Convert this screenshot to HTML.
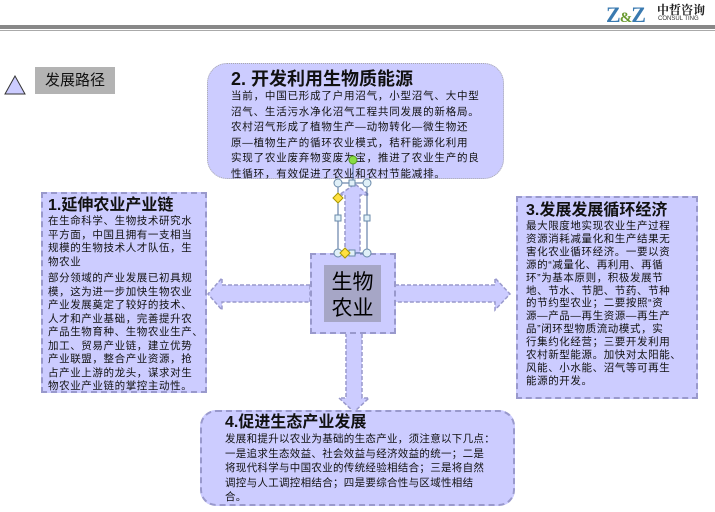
<!DOCTYPE html>
<html><head><meta charset="utf-8"><style>
body{margin:0;width:715px;height:512px;background:#fff;position:relative;overflow:hidden;font-family:"Liberation Sans","Noto Sans CJK SC",sans-serif;}
.a{position:absolute;}
.box{position:absolute;background:#ccccff;box-sizing:border-box;color:#111;}
.t{font-weight:bold;font-size:16px;line-height:18px;white-space:nowrap;}
.p{font-size:10.5px;white-space:nowrap;}
</style></head><body>
<div class="a" style="left:0;top:25px;width:715px;height:4px;background:#888;"></div>
<div class="a" style="left:0;top:30px;width:715px;height:1px;background:#aaa;"></div>
<div class="a" style="left:606px;top:2px;font:bold 22px 'Liberation Serif',serif;color:#3a7ab0;letter-spacing:-1px;">Z<span style="font-size:15px;color:#6a9a30">&amp;</span>Z</div>
<div class="a" style="left:657px;top:1px;font:bold 12px 'Noto Serif CJK SC',serif;color:#222;">中哲咨询</div>
<div class="a" style="left:658px;top:16px;font-size:6px;color:#333;">CONSUL TING</div>
<svg class="a" style="left:0;top:0" width="715" height="512">
<polygon points="15,76 5,94 25,94" fill="#ccccff" stroke="#333" stroke-width="1"/>
<g fill="#ccccff" stroke="#9999cc" stroke-width="1.5" stroke-dasharray="4,2">
<polygon points="310,285 222,285 222,278 208,294 222,310 222,302 310,302"/>
<polygon points="395,285 495,285 495,278 510,294 495,310 495,302 395,302"/>
<polygon points="346,333 346,398 339,398 354,412 369,398 362,398 362,333"/>
<polygon points="345,253 345,195 339,195 355,184 369,195 360,195 360,253"/>
</g>
</svg>
<div class="a" style="left:35px;top:67px;width:80px;height:27px;background:#b3b3b3;font-size:15px;line-height:27px;text-align:center;color:#111;">发展路径</div>
<div class="box" style="left:207px;top:63px;width:297px;height:116px;border-radius:20px;border:1px dotted #aaa;padding:5px 0 0 23px;">
<div class="t" style="font-size:18px;line-height:20px;">2. 开发利用生物质能源</div>
<div class="p" style="line-height:15.5px;letter-spacing:0.8px;">当前，中国已形成了户用沼气，小型沼气、大中型<br>沼气、生活污水净化沼气工程共同发展的新格局。<br>农村沼气形成了植物生产—动物转化—微生物还<br>原—植物生产的循环农业模式，秸秆能源化利用<br>实现了农业废弃物变废为宝，推进了农业生产的良<br>性循环，有效促进了农业和农村节能减排。</div></div>
<div class="box" style="left:41px;top:192px;width:166px;height:201px;border:2px dashed #9999cc;padding:3px 2px 0 5px;">
<div class="t">1.延伸农业产业链</div>
<div class="p" style="line-height:13.5px;letter-spacing:0.6px;">在生命科学、生物技术研究水<br>平方面，中国且拥有一支相当<br>规模的生物技术人才队伍，生<br>物农业</div>
<div class="p" style="line-height:13.5px;letter-spacing:0.6px;margin-top:3px">部分领域的产业发展已初具规<br>模，这为进一步加快生物农业<br>产业发展奠定了较好的技术、<br>人才和产业基础，完善提升农<br>产品生物育种、生物农业生产、<br>加工、贸易产业链，建立优势<br>产业联盟，整合产业资源，抢<br>占产业上游的龙头，谋求对生<br>物农业产业链的掌控主动性。</div></div>
<div class="box" style="left:516px;top:196px;width:182px;height:203px;border:2px dashed #9999cc;padding:4px 2px 0 8px;">
<div class="t">3.发展发展循环经济</div>
<div class="p" style="line-height:12.9px;letter-spacing:0.6px;">最大限度地实现农业生产过程<br>资源消耗减量化和生产结果无<br>害化农业循环经济。一要以资<br>源的“减量化、再利用、再循<br>环”为基本原则，积极发展节<br>地、节水、节肥、节药、节种<br>的节约型农业；二要按照“资<br>源—产品—再生资源—再生产<br>品”闭环型物质流动模式，实<br>行集约化经营；三要开发利用<br>农村新型能源。加快对太阳能、<br>风能、小水能、沼气等可再生<br>能源的开发。</div></div>
<div class="box" style="left:200px;top:410px;width:315px;height:96px;border-radius:16px;border:2px dashed #9999cc;padding:2px 4px 0 23px;">
<div class="t">4.促进生态产业发展</div>
<div class="p" style="line-height:14.5px;letter-spacing:0.3px;">发展和提升以农业为基础的生态产业，须注意以下几点：<br>一是追求生态效益、社会效益与经济效益的统一；二是<br>将现代科学与中国农业的传统经验相结合；三是将自然<br>调控与人工调控相结合；四是要综合性与区域性相结<br>合。</div></div>
<div class="box" style="left:310px;top:253px;width:86px;height:81px;border:2px dashed #9999cc;"></div>
<div class="a" style="left:324px;top:265px;width:57px;height:57px;background:#a6a6c6;font:21px/26px 'Noto Sans CJK SC',sans-serif;text-align:center;padding-top:3px;box-sizing:border-box;color:#000;white-space:nowrap;">生物<br>农业</div>
<svg class="a" style="left:0;top:0" width="715" height="512">
<g fill="none" stroke="#4a6a9a" stroke-width="1">
<line x1="353" y1="160" x2="353" y2="183"/>
<rect x="338" y="183" width="29" height="70"/>
</g>
<circle cx="353" cy="160" r="4" fill="#88dd44" stroke="#559922"/>
<g fill="#e0f0f8" stroke="#6a8aaa">
<circle cx="338" cy="183" r="4"/><circle cx="367" cy="183" r="4"/>
<circle cx="338" cy="253" r="4"/><circle cx="367" cy="253" r="4"/>
<rect x="349" y="180" width="6" height="6"/><rect x="349" y="250" width="6" height="6"/>
<rect x="335" y="215" width="6" height="6"/><rect x="364" y="215" width="6" height="6"/>
</g>
<g fill="#ffe040" stroke="#aa9900">
<polygon points="338,193 343,198 338,203 333,198"/>
<polygon points="345,248 350,253 345,258 340,253"/>
</g>
</svg>
</body></html>
